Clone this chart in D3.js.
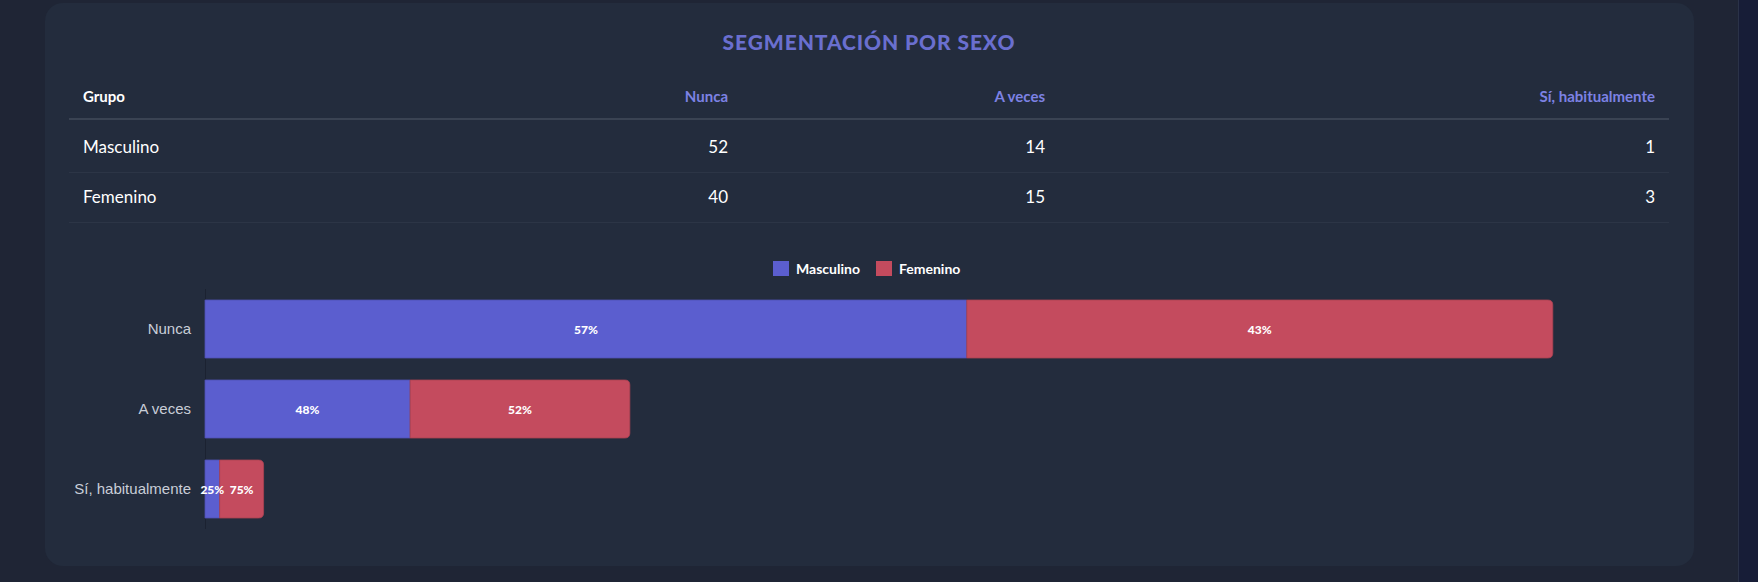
<!DOCTYPE html>
<html>
<head>
<meta charset="utf-8">
<script src="https://cdn.jsdelivr.net/npm/d3@7"></script>
<style>
  body { margin:0; background:#1e2534; }
  svg { display:block; }
</style>
</head>
<body>
<svg id="chart"></svg>
<script>
// data
var title = "SEGMENTACIÓN POR SEXO";
var answers = ["Nunca", "A veces", "Sí, habitualmente"];
var groups = ["Masculino", "Femenino"];
var masculino = [52, 14, 1];
var femenino = [40, 15, 3];
var groupColors = ["#5b5ecf", "#c44b5e"];

var svgwidth = 1758;
var svgheight = 582;

var svg = d3.select('#chart').attr('width', svgwidth).attr('height', svgheight);

// page / card background
svg.append('rect').attr('width', svgwidth).attr('height', svgheight).attr('fill', '#1f2535');
svg.append('rect').attr('x', 1738).attr('width', 20).attr('height', svgheight).attr('fill', '#171d37');
svg.append('line').attr('x1', 1738.5).attr('x2', 1738.5).attr('y1', 0).attr('y2', svgheight)
   .attr('stroke', '#2a3248');
svg.append('rect').attr('x', 45).attr('y', 3).attr('width', 1649).attr('height', 563)
   .attr('rx', 18).attr('fill', '#232c3d');

var font = "Lato, 'Noto Sans', sans-serif";

svg.append('text').text(title)
   .attr('x', 869).attr('y', 50)
   .attr('text-anchor', 'middle')
   .style('font-family', font).style('font-weight', 900).style('font-size', '21px')
   .style('letter-spacing', '0.9px')
   .attr('fill', '#6a6fcf');

// table
var table = svg.append('g').classed('table', true);
var colRight = [728, 1045, 1655];
var rowsY = [147, 197];

table.append('text').text('Grupo').attr('x', 83).attr('y', 102)
     .style('font-family', font).style('font-weight', 700).style('font-size', '15px')
     .attr('fill', '#ffffff');

table.selectAll('text.head').data(answers).enter().append('text').classed('head', true)
     .text(function(d){ return d; })
     .attr('x', function(d, i){ return colRight[i]; })
     .attr('y', 102)
     .attr('text-anchor', 'end')
     .style('font-family', font).style('font-weight', 700).style('font-size', '15px')
     .attr('fill', '#7d82e4');

table.append('line').attr('x1', 69).attr('x2', 1669).attr('y1', 119).attr('y2', 119)
     .attr('stroke', '#3a4353').attr('stroke-width', 2);

var tableRows = [masculino, femenino];
tableRows.forEach(function(vals, r){
  var y = rowsY[r];
  table.append('text').text(groups[r]).attr('x', 83).attr('y', y + 6)
       .style('font-family', font).style('font-size', '17px').attr('fill', '#ffffff');
  table.selectAll('text.v' + r).data(vals).enter().append('text').classed('v' + r, true)
       .text(function(d){ return d; })
       .attr('x', function(d, i){ return colRight[i]; })
       .attr('y', y + 6)
       .attr('text-anchor', 'end')
       .style('font-family', font).style('font-size', '17px').attr('fill', '#ffffff');
  table.append('line').attr('x1', 69).attr('x2', 1669)
       .attr('y1', y + 25.5).attr('y2', y + 25.5)
       .attr('stroke', '#2c3546').attr('stroke-width', 1);
});

// legend
var legend = svg.append('g').classed('legend', true);
var legendX = [773, 876];
groups.forEach(function(g, i){
  legend.append('rect').attr('x', legendX[i]).attr('y', 261).attr('width', 16).attr('height', 15)
        .attr('fill', groupColors[i]);
  legend.append('text').text(g).attr('x', legendX[i] + 23).attr('y', 273.5)
        .style('font-family', font).style('font-weight', 700).style('font-size', '14px')
        .attr('fill', '#ffffff');
});

// stacked bars
var xScale = d3.scaleLinear().domain([0, 100]).range([205, 1670]);
var yScale = d3.scaleBand().domain(answers).range([289, 529])
               .paddingInner(0.275).paddingOuter(0.1375);

var stackData = answers.map(function(a, i){
  return { answer: a, Masculino: masculino[i], Femenino: femenino[i] };
});
var series = d3.stack().keys(groups)(stackData);

svg.append('line').attr('x1', 205.5).attr('x2', 205.5).attr('y1', 289).attr('y2', 529)
   .attr('stroke', '#1b2231').attr('stroke-width', 1);

var roundRight = function(x0, x1, y, h, r){
  r = Math.min(r, (x1 - x0));
  return 'M' + x0 + ',' + y + 'H' + (x1 - r) + 'Q' + x1 + ',' + y + ' ' + x1 + ',' + (y + r)
       + 'V' + (y + h - r) + 'Q' + x1 + ',' + (y + h) + ' ' + (x1 - r) + ',' + (y + h)
       + 'H' + x0 + 'Z';
};

var plot = svg.append('g').classed('plot', true);
series.forEach(function(s, si){
  var last = si === series.length - 1;
  plot.selectAll('path.s' + si).data(s).enter().append('path').classed('s' + si, true)
      .attr('d', function(d){
        var x0 = xScale(d[0]), x1 = xScale(d[1]);
        var y = yScale(d.data.answer), h = yScale.bandwidth();
        return last ? roundRight(x0, x1, y, h, 5)
                    : 'M' + x0 + ',' + y + 'H' + x1 + 'V' + (y + h) + 'H' + x0 + 'Z';
      })
      .attr('fill', groupColors[si])
      .attr('stroke', d3.color(groupColors[si]).darker(0.4))
      .attr('stroke-width', 0.8);
});

series.forEach(function(s, si){
  plot.selectAll('text.l' + si).data(s).enter().append('text').classed('l' + si, true)
      .text(function(d){
        var total = d.data.Masculino + d.data.Femenino;
        return Math.round((d[1] - d[0]) / total * 100) + '%';
      })
      .attr('x', function(d){ return (xScale(d[0]) + xScale(d[1])) / 2; })
      .attr('y', function(d){ return yScale(d.data.answer) + yScale.bandwidth() / 2 + 4.5; })
      .attr('text-anchor', 'middle')
      .style('font-family', font).style('font-weight', 900).style('font-size', '12px')
      .attr('fill', '#ffffff');
});

var yAxis = d3.axisLeft(yScale).tickSize(0).tickPadding(10);
svg.append('g').classed('yAxis', true)
   .attr('transform', 'translate(' + 191 + ',0)')
   .call(yAxis)
   .call(function(g){ g.select('.domain').remove(); })
   .selectAll('text')
   .attr('x', 0)
   .style('font-family', "'Liberation Sans', Arial, sans-serif").style('font-size', '15px')
   .attr('fill', '#c9ced8');
</script>
</body>
</html>
